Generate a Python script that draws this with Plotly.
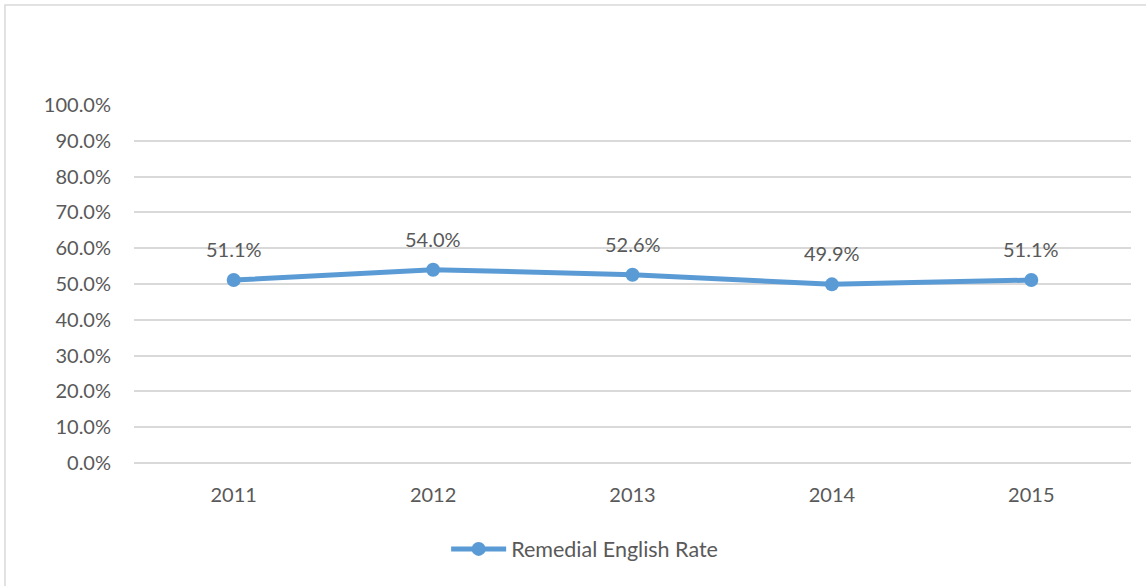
import plotly.graph_objects as go

years = ["2011", "2012", "2013", "2014", "2015"]
rates = [0.511, 0.540, 0.526, 0.499, 0.511]
series_name = "Remedial English Rate"

FONT = "Lato"
TEXT = "#595959"
BLUE = "#5B9BD5"

fig = go.Figure()
fig.add_trace(go.Scatter(
    x=years, y=rates, name=series_name, mode="lines+markers",
    line=dict(color=BLUE, width=5),
    marker=dict(color=BLUE, size=14),
    showlegend=True,
))

# data labels above each point (x as category index)
for i, r in enumerate(rates):
    fig.add_annotation(x=i, y=r, xref="x", yref="y", text=f"{r*100:.1f}%",
                       showarrow=False, yshift=31,
                       font=dict(family=FONT, size=20, color=TEXT))

# outer chart border (only top/left visible in the reference)
fig.add_shape(type="rect", xref="paper", yref="paper",
              x0=-0.1294, x1=1.2, y0=-0.6, y1=1.279,
              line=dict(color="#D9D9D9", width=1.5), layer="below")

fig.update_layout(
    width=1146, height=586,
    margin=dict(l=134, r=15, t=105, b=123),
    paper_bgcolor="white", plot_bgcolor="white",
    font=dict(family=FONT, size=20, color=TEXT),
    legend=dict(orientation="h", x=0.452, xanchor="center", y=-0.24, yanchor="middle",
                itemwidth=55, font=dict(size=21.5, color=TEXT)),
)
fig.update_xaxes(type="category", range=[-0.5, 4.5], showgrid=False,
                 showline=False, zeroline=False, ticks="", ticklabelstandoff=18)
fig.update_yaxes(range=[0, 1], dtick=0.1, tickformat=".1%", showgrid=True,
                 gridcolor="#D9D9D9", gridwidth=1.5, zeroline=True, zerolinecolor="#D9D9D9",
                 zerolinewidth=1.5, showline=False, ticks="", ticklabelstandoff=22)

fig.write_html("out.html", config={"displayModeBar": False},
               post_script="document.body.style.margin='0';")
